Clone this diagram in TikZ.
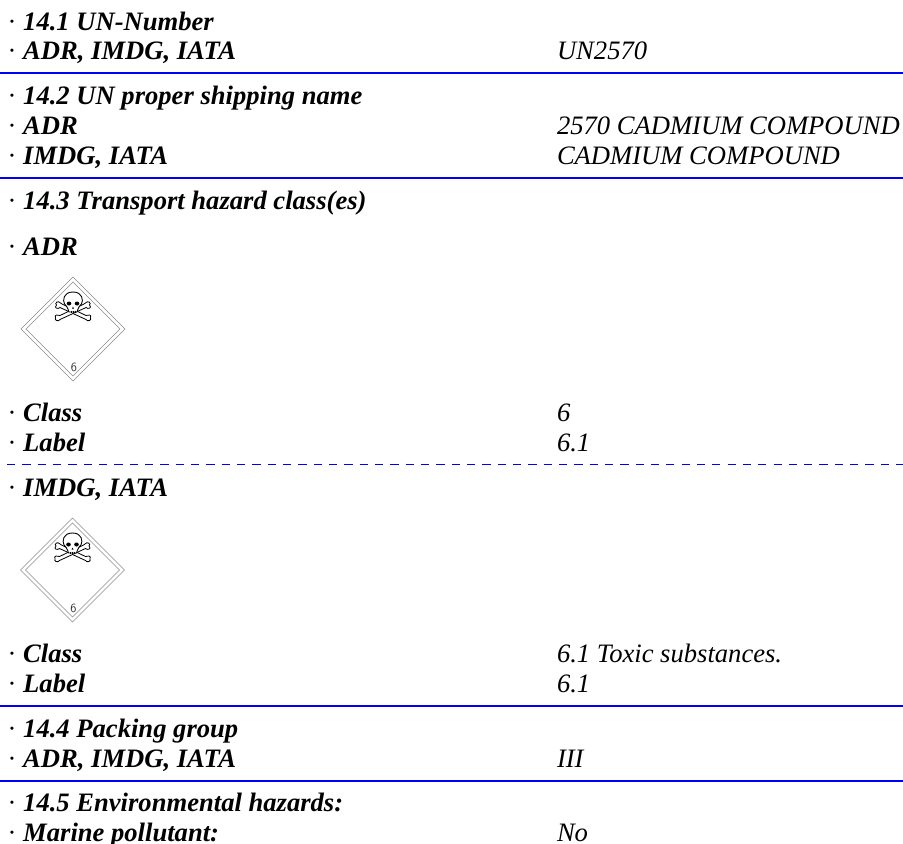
\documentclass[tikz,border=0pt]{standalone}
\usepackage{fontspec}
\setmainfont{Liberation Serif}
\definecolor{rule}{RGB}{0,0,245}
\tikzset{
 x=1pt,y=-1pt,
 lab/.style={anchor=base west,inner sep=0pt,outer sep=0pt,font=\fontsize{26.6}{28}\selectfont\bfseries\itshape,text=black},
 val/.style={anchor=base west,inner sep=0pt,outer sep=0pt,font=\fontsize{26.6}{28}\selectfont\itshape,text=black},
 solidrule/.style={draw=rule,line width=1.5pt},
 dashrule/.style={draw=rule,line width=1pt,dash pattern=on 8.3pt off 7.03pt},
 placard/.style={draw=black!45,line width=0.6pt,fill=none},
 bone/.style={draw=black,line width=0.8pt,fill=white,line join=round},
 num/.style={inner sep=0pt,font=\fontsize{12.5}{13}\selectfont\sffamily,text=black!80},
}
\newcommand{\rowL}[3]{\node[lab] (#1) at (7.7,#2) {{\fontseries{m}\fontshape{n}\selectfont\textperiodcentered} #3};}
\newcommand{\rowV}[3]{\node[val] (#1) at (557,#2) {#3};}
\newcommand{\placardat}[3]{%
 \begin{scope}[shift={(#2,#3)}]
  \node[shape=rectangle,minimum size=0pt,inner sep=0pt] (#1) at (0,0) {};
  \draw[placard] (0,-52)--(52,0)--(0,52)--(-52,0)--cycle;
  \draw[placard] (0,-47)--(47,0)--(0,47)--(-47,0)--cycle;
  % bones
  \draw[bone] (-16.5,-24) .. controls (-19,-26) and (-14.5,-29) .. (-12.5,-26) -- (-11,-25) -- (13,-13.5) .. controls (15,-15) and (19,-14) .. (17.5,-11.5) .. controls (19,-8.5) and (14.5,-7) .. (13,-9.5) -- (-13,-21.5) .. controls (-15,-19.5) and (-19.5,-21) .. (-16.5,-24) -- cycle;
  \draw[bone] (16.5,-24) .. controls (19,-26) and (14.5,-29) .. (12.5,-26) -- (11,-25) -- (-13,-13.5) .. controls (-15,-15) and (-19,-14) .. (-17.5,-11.5) .. controls (-19,-8.5) and (-14.5,-7) .. (-13,-9.5) -- (13,-21.5) .. controls (15,-19.5) and (19.5,-21) .. (16.5,-24) -- cycle;
  % skull
  \draw[bone,line width=0.9pt] (0,-37) .. controls (-9.5,-37) and (-10.5,-29) .. (-8.5,-25) .. controls (-7.5,-23) and (-5,-22.5) .. (-5,-20) -- (-4,-17) -- (4,-17) -- (5,-20) .. controls (5,-22.5) and (7.5,-23) .. (8.5,-25) .. controls (10.5,-29) and (9.5,-37) .. (0,-37) -- cycle;
  \fill[black] (-4,-25.5) ellipse (2.3 and 2.0);
  \fill[black] (4,-25.5) ellipse (2.3 and 2.0);
  \fill[black] (0,-22.5) -- (-1,-20.5) -- (1,-20.5) -- cycle;
  \draw[black,line width=0.8pt] (-2,-18.5)--(-2,-16) (0,-18.5)--(0,-16) (2,-18.5)--(2,-16);
  \node[num] (#1n) at (1,38) {6};
 \end{scope}}
\begin{document}
\begin{tikzpicture}
\useasboundingbox (0,0) rectangle (903,844);
\fill[white] (0,0) rectangle (903,844);
\coordinate (l1a) at (0,73); \coordinate (l1b) at (903,73);
\draw[solidrule] (l1a)--(l1b);
\coordinate (l2a) at (0,178); \coordinate (l2b) at (903,178);
\draw[solidrule] (l2a)--(l2b);
\coordinate (l3a) at (7,464); \coordinate (l3b) at (903,464);
\draw[dashrule] (l3a)--(l3b);
\coordinate (l4a) at (0,706); \coordinate (l4b) at (903,706);
\draw[solidrule] (l4a)--(l4b);
\coordinate (l5a) at (0,781); \coordinate (l5b) at (903,781);
\draw[solidrule] (l5a)--(l5b);
\rowL{a1}{30}{14.1 UN-Number}
\rowL{a2}{59.5}{ADR, IMDG, IATA}
\rowV{v2}{59.5}{UN2570}
\rowL{a3}{104}{14.2 UN proper shipping name}
\rowL{a4}{134}{ADR}
\rowV{v4}{134}{2570 CADMIUM COMPOUND}
\rowL{a5}{164.5}{IMDG, IATA}
\rowV{v5}{164.5}{CADMIUM COMPOUND}
\rowL{a6}{209}{14.3 Transport hazard class(es)}
\rowL{a7}{255}{ADR}
\placardat{p1}{73}{329}
\rowL{a8}{421.5}{Class}
\rowV{v8}{421.5}{6}
\rowL{a9}{451.5}{Label}
\rowV{v9}{451.5}{6.1}
\rowL{a10}{496}{IMDG, IATA}
\placardat{p2}{72.5}{570}
\rowL{a11}{662}{Class}
\rowV{v11}{662}{6.1 Toxic substances.}
\rowL{a12}{692}{Label}
\rowV{v12}{692}{6.1}
\rowL{a13}{737}{14.4 Packing group}
\rowL{a14}{767}{ADR, IMDG, IATA}
\rowV{v14}{767}{III}
\rowL{a15}{811.5}{14.5 Environmental hazards:}
\rowL{a16}{841.5}{Marine pollutant:}
\rowV{v16}{841.5}{No}
\end{tikzpicture}
\end{document}
